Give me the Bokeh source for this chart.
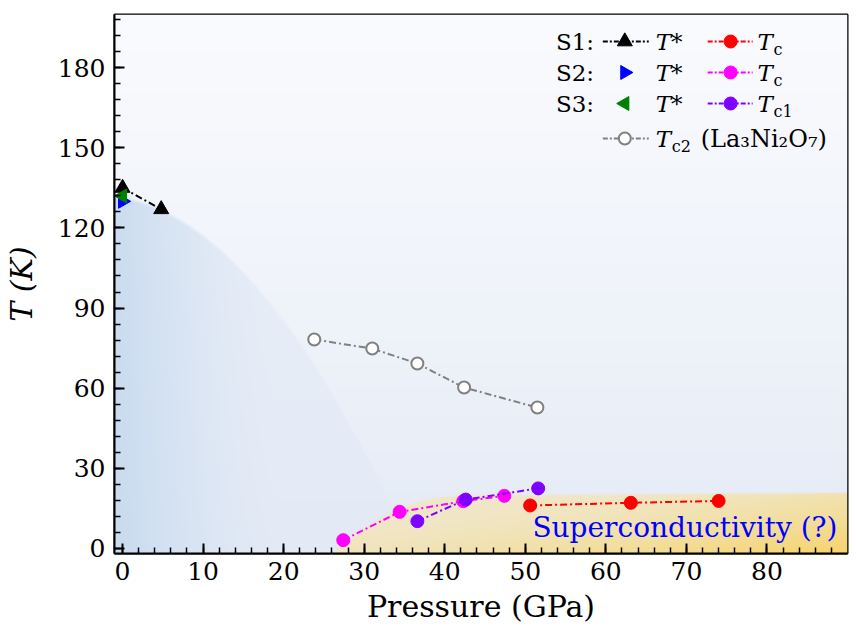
import numpy as np
from bokeh.plotting import figure
from bokeh.models import FixedTicker, Range1d, Label
from bokeh.embed import file_html
from bokeh.resources import INLINE

# ---------------- data ----------------
s1_tstar_p = [0.0, 4.8]
s1_tstar_T = [135.0, 127.0]
s2_tstar_p = [0.0]
s2_tstar_T = [130.0]
s3_tstar_p = [0.0]
s3_tstar_T = [132.0]
s1_tc_p = [50.6, 63.1, 74.0]
s1_tc_T = [16.0, 17.0, 17.7]
s2_tc_p = [27.4, 34.4, 42.3, 47.4]
s2_tc_T = [3.0, 13.6, 17.6, 19.6]
s3_tc1_p = [36.6, 42.6, 51.6]
s3_tc1_T = [10.1, 18.2, 22.4]
lno_tc2_p = [23.8, 31.0, 36.6, 42.4, 51.5]
lno_tc2_T = [78.2, 74.8, 69.2, 60.2, 52.7]

x_ticks = [0, 10, 20, 30, 40, 50, 60, 70, 80]
y_ticks = [0, 30, 60, 90, 120, 150, 180]

XMIN, XMAX, YMIN, YMAX = -1.0, 90.0, -2.0, 200.0
FL, FT = 113, 14          # frame left / top in page pixels
FW, FH = 734, 539         # frame size in pixels

SERIF = "DejaVu Serif"
DASH = "7 3 2 3"

p = figure(width=856, height=635, output_backend="svg", toolbar_location=None,
           x_range=Range1d(XMIN, XMAX), y_range=Range1d(YMIN, YMAX),
           min_border_left=FL, min_border_right=856 - FL - FW, min_border_top=FT,
           min_border_bottom=635 - FT - FH)
p.background_fill_color = "white"
p.border_fill_color = "white"
p.outline_line_color = "black"
p.outline_line_width = 2
p.xgrid.visible = False
p.ygrid.visible = False

# ---------------- background shading (decorative) ----------------
xs = np.linspace(XMIN, XMAX, FW)
ys = np.linspace(YMIN, YMAX, FH)
X, Y = np.meshgrid(xs, ys)

def lerp(c0, c1, t):
    c0 = np.array(c0, float); c1 = np.array(c1, float)
    return c0 + (c1 - c0) * t[..., None]

t_v = ((Y - YMIN) / (YMAX - YMIN)) ** 0.8
col = lerp((227, 234, 245), (250, 251, 254), t_v)

# region under the T* line
yb = 132 - 0.561 * X - 0.0877 * X ** 2
m_b = np.clip((yb - Y) / 1.5, 0, 1) * 0.85
inside = lerp((227, 234, 246), (231, 237, 247), np.clip(Y / 130, 0, 1))
w_blue = np.clip(1 - (X - XMIN) / 20.0, 0, 1) ** 1.4
inside = inside + (np.array([196, 216, 238.0]) - inside) * w_blue[..., None]
col = col + (inside - col) * m_b[..., None]

# superconducting region
u = np.clip((X - 26) / 17, 0, 1)
yy = np.where(X < 26, -10.0,
              np.where(X < 43, -2 + 22 * (1 - (1 - u) ** 2.2), 20 + (X - 43) * 0.02))
m_y = np.clip((yy - Y) / 0.8, 0, 1)
t_y = np.clip(0.6 * (X - 40) / 50 + 0.6 * (1 - (Y + 2) / 22) - 0.15, 0, 1) ** 1.6
ycol = lerp((240, 231, 200), (246, 213, 115), t_y)
col = col + (ycol - col) * m_y[..., None]

img = np.empty((FH, FW), dtype=np.uint32)
view = img.view(dtype=np.uint8).reshape((FH, FW, 4))
view[:, :, 0] = col[:, :, 0].astype(np.uint8)
view[:, :, 1] = col[:, :, 1].astype(np.uint8)
view[:, :, 2] = col[:, :, 2].astype(np.uint8)
view[:, :, 3] = 255
p.image_rgba(image=[img], x=XMIN, y=YMIN, dw=XMAX - XMIN, dh=YMAX - YMIN, level="image")

# ---------------- data series ----------------
p.line(lno_tc2_p, lno_tc2_T, line_color="gray", line_width=2, line_dash=DASH)
p.scatter(lno_tc2_p, lno_tc2_T, marker="circle", size=12, fill_color="white",
          line_color="gray", line_width=2)

p.line(s1_tc_p, s1_tc_T, line_color="red", line_width=2, line_dash=DASH)
p.scatter(s1_tc_p, s1_tc_T, marker="circle", size=13, color="red")

p.line(s2_tc_p, s2_tc_T, line_color="magenta", line_width=2, line_dash=DASH)
p.scatter(s2_tc_p, s2_tc_T, marker="circle", size=13, color="magenta")

p.line(s3_tc1_p, s3_tc1_T, line_color="#8000ff", line_width=2, line_dash=DASH)
p.scatter(s3_tc1_p, s3_tc1_T, marker="circle", size=13, color="#8000ff")

p.line(s1_tstar_p, s1_tstar_T, line_color="black", line_width=2, line_dash=DASH)
p.scatter(s1_tstar_p, s1_tstar_T, marker="triangle", size=15, color="black")
p.scatter(s2_tstar_p, s2_tstar_T, marker="triangle", size=14, color="blue", angle=-np.pi / 2)
p.scatter(s3_tstar_p, s3_tstar_T, marker="triangle", size=14, color="green", angle=np.pi / 2)

# ---------------- axes ----------------
p.xaxis.ticker = FixedTicker(ticks=x_ticks, minor_ticks=list(range(0, 90, 2)))
p.yaxis.ticker = FixedTicker(ticks=y_ticks, minor_ticks=list(range(0, 200, 6)))
for ax in (p.xaxis[0], p.yaxis[0]):
    ax.axis_line_width = 2
    ax.axis_line_color = "black"
    ax.major_tick_in = 10
    ax.major_tick_out = 0
    ax.minor_tick_in = 6
    ax.minor_tick_out = 0
    ax.major_tick_line_width = 2
    ax.minor_tick_line_width = 1.5
    ax.major_label_text_font = SERIF
    ax.major_label_text_font_size = "25px"
    ax.major_label_text_color = "black"
    ax.axis_label_text_font = SERIF
    ax.axis_label_text_font_size = "30px"
    ax.axis_label_text_font_style = "normal"
    ax.axis_label_text_color = "black"
p.xaxis.axis_label = "Pressure (GPa)"
p.yaxis.axis_label = "T (K)"
p.yaxis.axis_label_text_font_style = "italic"
p.xaxis.major_label_standoff = 8
p.xaxis.axis_label_standoff = 6
p.yaxis.major_label_standoff = 9
p.yaxis.axis_label_standoff = 16

# ---------------- text / legend (positions in page pixels) ----------------
def fx(px):
    return XMIN + (px - FL) * (XMAX - XMIN) / FW

def fy(py):
    return YMAX - (py - FT) * (YMAX - YMIN) / FH

def lab(text, px, py, size="23px", style="normal", color="black", align="left"):
    p.add_layout(Label(x=fx(px), y=fy(py), text=text, text_font=SERIF,
                       text_font_size=size, text_font_style=style, text_color=color,
                       text_align=align, text_baseline="middle"))

lab("Superconductivity (?)", 837, 527, size="28px", color="blue", align="right")

rows = [41, 72, 103, 138]
col1_line = (602, 648)
col2_line = (707, 752)

def leg_line(x0, x1, py, color):
    p.line([fx(x0), fx(x1)], [fy(py), fy(py)], line_color=color, line_width=2,
           line_dash="5 2 2 2")

for i, s in enumerate(["S1:", "S2:", "S3:"]):
    lab(s, 555, rows[i])
    lab("T*", 655, rows[i], style="italic")

leg_line(*col1_line, rows[0], "black")
p.scatter([fx(624)], [fy(rows[0])], marker="triangle", size=15, color="black")
p.scatter([fx(624)], [fy(rows[1])], marker="triangle", size=14, color="blue", angle=-np.pi / 2)
p.scatter([fx(624)], [fy(rows[2])], marker="triangle", size=14, color="green", angle=np.pi / 2)

for i, (c, sub) in enumerate([("red", "c"), ("magenta", "c"), ("#8000ff", "c1")]):
    leg_line(*col2_line, rows[i], c)
    p.scatter([fx(730)], [fy(rows[i])], marker="circle", size=13, color=c)
    lab("T", 757, rows[i], style="italic")
    lab(sub, 773, rows[i] + 8, size="16px")

leg_line(*col1_line, rows[3], "gray")
p.scatter([fx(624)], [fy(rows[3])], marker="circle", size=12, fill_color="white",
          line_color="gray", line_width=2)
lab("T", 655, rows[3], style="italic")
lab("c2", 671, rows[3] + 8, size="16px")
lab("(La\u2083Ni\u2082O\u2087)", 700, rows[3], size="24px")

open("out.html", "w").write(file_html(p, INLINE))
